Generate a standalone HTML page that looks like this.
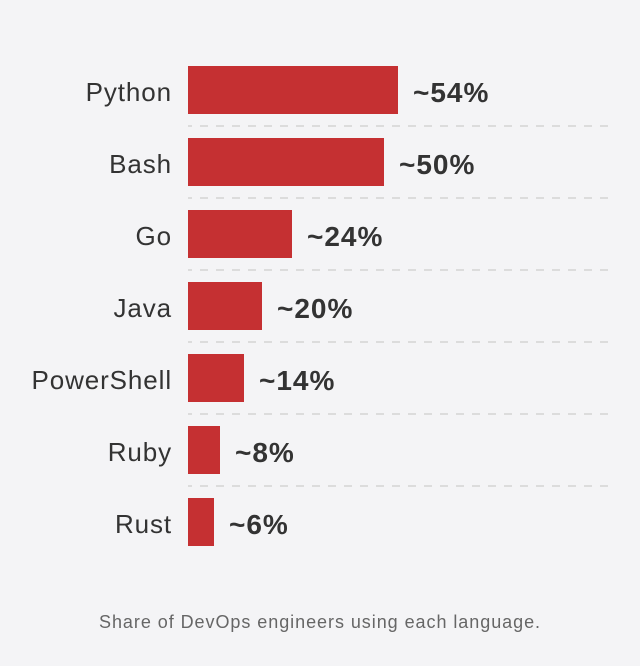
<!DOCTYPE html>
<html>
<head>
<meta charset="utf-8">
<style>
html,body{margin:0;padding:0;background:#f4f4f6;}
body{width:640px;height:666px;overflow:hidden;}
svg{display:block;}
.lab{font-family:"Liberation Sans",sans-serif;font-size:26px;fill:#333;letter-spacing:0.9px;}
.val{font-family:"Liberation Sans",sans-serif;font-size:28px;font-weight:bold;fill:#333;letter-spacing:1px;}
.cap{font-family:"Liberation Sans",sans-serif;font-size:18px;fill:#666;letter-spacing:0.95px;}
</style>
</head>
<body>
<svg width="640" height="666" viewBox="0 0 640 666" xmlns="http://www.w3.org/2000/svg">
<rect x="0" y="0" width="640" height="666" fill="#f4f4f6"/>
<g stroke="#dcdcdc" stroke-width="2" stroke-dasharray="8 8" stroke-dashoffset="4">
<line x1="188" y1="126" x2="608" y2="126"/>
<line x1="188" y1="198" x2="608" y2="198"/>
<line x1="188" y1="270" x2="608" y2="270"/>
<line x1="188" y1="342" x2="608" y2="342"/>
<line x1="188" y1="414" x2="608" y2="414"/>
<line x1="188" y1="486" x2="608" y2="486"/>
</g>
<g fill="#c53032">
<rect x="188" y="66" width="210" height="48"/>
<rect x="188" y="138" width="196" height="48"/>
<rect x="188" y="210" width="104" height="48"/>
<rect x="188" y="282" width="74" height="48"/>
<rect x="188" y="354" width="56" height="48"/>
<rect x="188" y="426" width="32" height="48"/>
<rect x="188" y="498" width="26" height="48"/>
</g>
<g class="lab" text-anchor="end">
<text x="172" y="101">Python</text>
<text x="172" y="173">Bash</text>
<text x="172" y="245">Go</text>
<text x="172" y="317">Java</text>
<text x="172" y="389">PowerShell</text>
<text x="172" y="461">Ruby</text>
<text x="172" y="533">Rust</text>
</g>
<g class="val">
<text x="413" y="102">~54%</text>
<text x="399" y="174">~50%</text>
<text x="307" y="246">~24%</text>
<text x="277" y="318">~20%</text>
<text x="259" y="390">~14%</text>
<text x="235" y="462">~8%</text>
<text x="229" y="534">~6%</text>
</g>
<text class="cap" x="320" y="628" text-anchor="middle">Share of DevOps engineers using each language.</text>
</svg>
</body>
</html>
